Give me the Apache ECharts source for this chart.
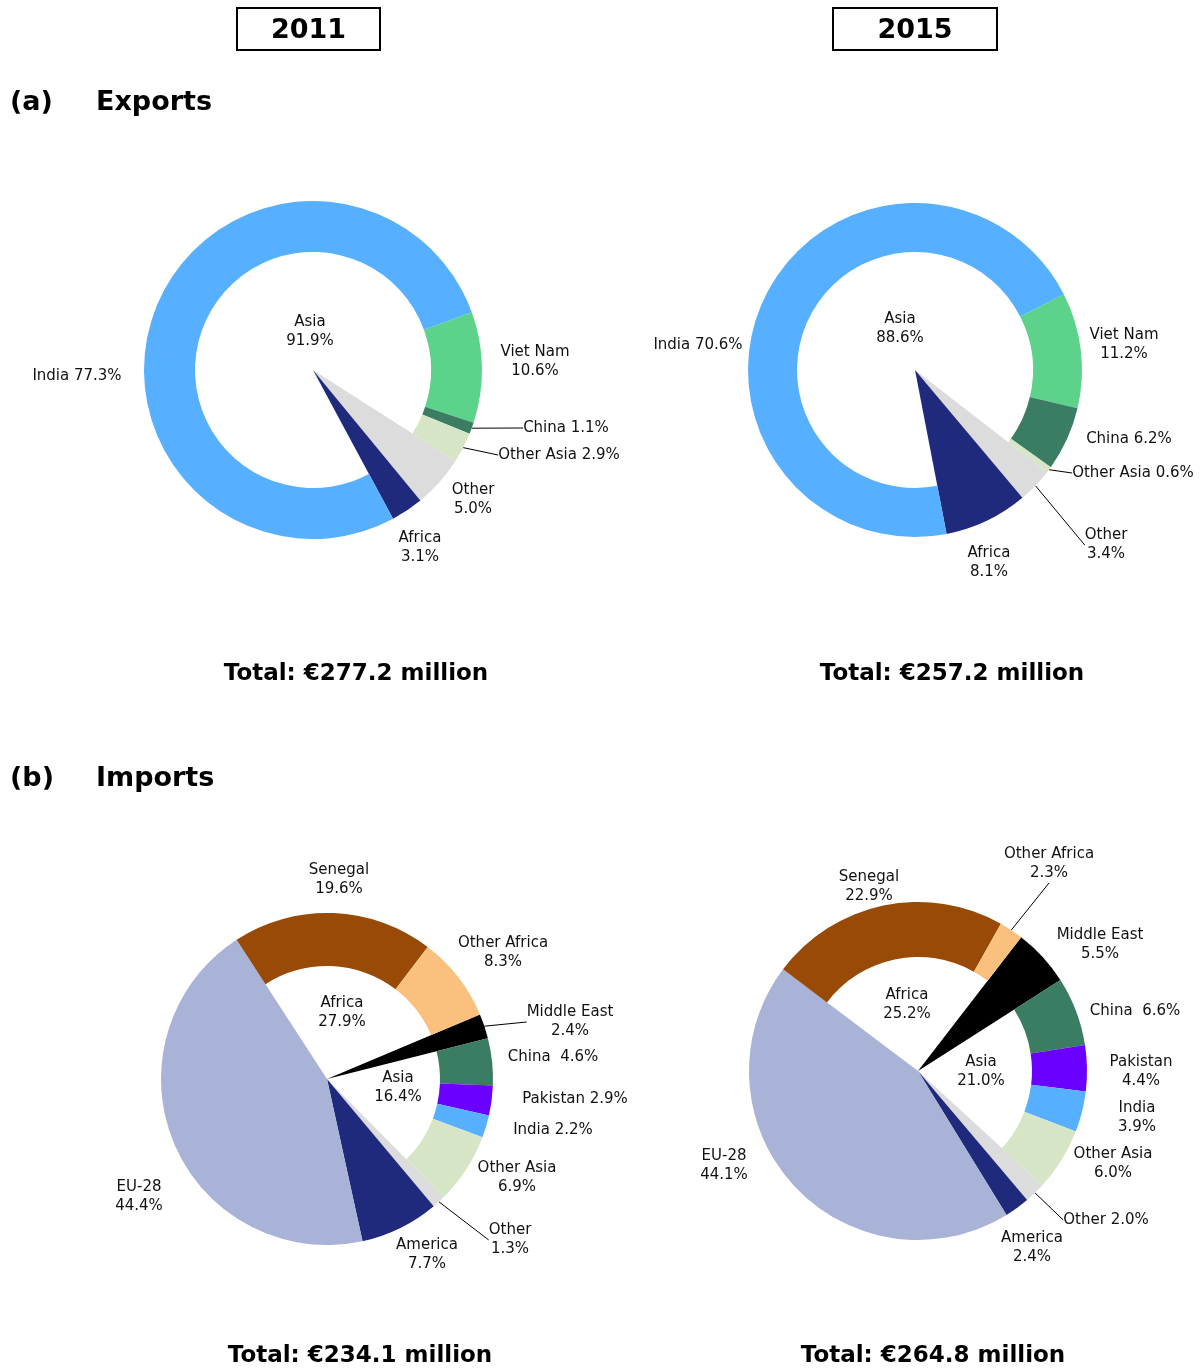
<!DOCTYPE html>
<html>
<head>
<meta charset="utf-8">
<script src="https://cdn.jsdelivr.net/npm/echarts@6/dist/echarts.min.js"></script>
<style>
html, body { margin: 0; padding: 0; background: #fff; }
#main { width: 1204px; height: 1370px; }
</style>
</head>
<body>
<div id="main"></div>
<script>
// (a) exports : Asian partners form the ring, the rest are wedges from the centre
const expNames = ['Viet Nam', 'China', 'Other Asia', 'Other', 'Africa', 'India'];
const exp2011 = [10.6, 1.1, 2.9, 5.0, 3.1, 77.3];
const exp2015 = [11.2, 6.2, 0.6, 3.4, 8.1, 70.6];
const expInRing = [1, 1, 1, 0, 0, 1];
const expAsia = [91.9, 88.6];
const expTotal = ['€277.2', '€257.2'];

// (b) imports : African and Asian partners form the ring
const impNames = ['Senegal', 'Other Africa', 'Middle East', 'China', 'Pakistan', 'India', 'Other Asia', 'Other', 'America', 'EU-28'];
const imp2011 = [19.6, 8.3, 2.4, 4.6, 2.9, 2.2, 6.9, 1.3, 7.7, 44.4];
const imp2015 = [22.9, 2.3, 5.5, 6.6, 4.4, 3.9, 6.0, 2.0, 2.4, 44.1];
const impInRing = [1, 1, 0, 1, 1, 1, 1, 0, 0, 0];
const impAfrica = [27.9, 25.2];
const impAsia = [16.4, 21.0];
const impTotal = ['€234.1', '€264.8'];

const years = ['2011', '2015'];

const FONT = 'DejaVu Sans';
const colors = {
  'India': '#56b0ff', 'Viet Nam': '#5dd28a', 'China': '#3a7d63', 'Other Asia': '#d5e5c5',
  'Other': '#dcdcdc', 'Africa': '#1f2a7c', 'America': '#1f2a7c', 'Senegal': '#994a07',
  'Other Africa': '#fac07d', 'Middle East': '#000000', 'Pakistan': '#6a00ff', 'EU-28': '#a9b2d7'
};

// label placement: offset from pie centre, separator between name and value, leader line
const pies = [
  {
    names: expNames, values: exp2011, ring: expInRing, center: [313, 370], r: [118, 169], start: 20,
    labels: [[222, -8, '\n'], [253, 58, ' ', 1], [246, 85, ' ', 1], [160, 130, '\n'], [107, 178, '\n'], [-236, 6, ' ']],
    groups: [[-3, -38, 'Asia', expAsia[0]]],
    total: expTotal[0], totalPos: [356, 674]
  },
  {
    names: expNames, values: exp2015, ring: expInRing, center: [915, 370], r: [118, 167], start: 27,
    labels: [[209, -25, '\n'], [214, 69, ' '], [218, 103, ' ', 1], [191, 175, '\n', 1], [74, 193, '\n'], [-217, -25, ' ']],
    groups: [[-15, -41, 'Asia', expAsia[1]]],
    total: expTotal[1], totalPos: [952, 674]
  },
  {
    names: impNames, values: imp2011, ring: impInRing, center: [327, 1079], r: [113, 166], start: 123,
    labels: [[12, -199, '\n'], [176, -126, '\n'], [243, -57, '\n', 1], [226, -22, '  '], [248, 20, ' '],
             [226, 51, ' '], [190, 99, '\n'], [183, 161, '\n', 1], [100, 176, '\n'], [-188, 118, '\n']],
    groups: [[15, -66, 'Africa', impAfrica[0]], [71, 9, 'Asia', impAsia[0]]],
    total: impTotal[0], totalPos: [360, 1356]
  },
  {
    names: impNames, values: imp2015, ring: impInRing, center: [918, 1071], r: [114, 169], start: 143,
    labels: [[-49, -184, '\n'], [131, -207, '\n', 1], [182, -126, '\n'], [217, -60, '  '], [223, 1, '\n'],
             [219, 47, '\n'], [195, 93, '\n'], [188, 149, ' ', 1], [114, 177, '\n'], [-194, 95, '\n']],
    groups: [[-11, -66, 'Africa', impAfrica[1]], [63, 1, 'Asia', impAsia[1]]],
    total: impTotal[1], totalPos: [933, 1356]
  }
];

function pieSeries(p, inRing) {
  return {
    type: 'pie',
    center: p.center,
    radius: inRing ? p.r : [0, p.r[1]],
    startAngle: p.start,
    clockwise: true,
    avoidLabelOverlap: false,
    silent: true,
    animation: false,
    data: p.names.map((name, i) => {
      const show = !!p.ring[i] === inRing;
      return {
        name: name,
        value: p.values[i],
        itemStyle: { color: show ? colors[name] : 'rgba(0,0,0,0)' },
        label: { show: show },
        labelLine: { show: show && !!p.labels[i][3] }
      };
    }),
    label: {
      position: 'outside',
      color: '#111',
      fontFamily: FONT,
      fontSize: 15,
      lineHeight: 19,
      formatter: params => params.name + p.labels[params.dataIndex][2] + params.value.toFixed(1) + '%'
    },
    labelLine: { lineStyle: { color: '#000', width: 1 }, length: 10, length2: 0 },
    labelLayout: params => {
      const lab = p.labels[params.dataIndex];
      return { x: p.center[0] + lab[0], y: p.center[1] + lab[1], align: 'center', verticalAlign: 'middle' };
    }
  };
}

const series = [];
const graphic = [];

pies.forEach(p => {
  series.push(pieSeries(p, false));
  series.push(pieSeries(p, true));
  p.groups.forEach(g => {
    graphic.push({
      type: 'text', x: p.center[0] + g[0], y: p.center[1] + g[1], silent: true,
      style: { text: g[2] + '\n' + g[3].toFixed(1) + '%', align: 'center', verticalAlign: 'middle',
               fontFamily: FONT, fontSize: 15, lineHeight: 19, fill: '#111' }
    });
  });
  graphic.push({
    type: 'text', x: p.totalPos[0], y: p.totalPos[1], silent: true,
    style: { text: 'Total: ' + p.total + ' million', align: 'center', verticalAlign: 'middle',
             fontFamily: FONT, fontSize: 23, fontWeight: 'bold', fill: '#000' }
  });
});

// year boxes
[[237, 143, years[0]], [833, 164, years[1]]].forEach(b => {
  graphic.push({ type: 'rect', shape: { x: b[0], y: 8, width: b[1], height: 42 },
                 style: { fill: '#fff', stroke: '#000', lineWidth: 2 }, silent: true });
  graphic.push({ type: 'text', x: b[0] + b[1] / 2, y: 31, silent: true,
                 style: { text: b[2], align: 'center', verticalAlign: 'middle',
                          fontFamily: FONT, fontSize: 27, fontWeight: 'bold', fill: '#000' } });
});

// section headings
[[103, '(a)', 'Exports'], [779, '(b)', 'Imports']].forEach(h => {
  graphic.push({ type: 'text', x: 10, y: h[0], silent: true,
                 style: { text: h[1], align: 'left', verticalAlign: 'middle',
                          fontFamily: FONT, fontSize: 27, fontWeight: 'bold', fill: '#000' } });
  graphic.push({ type: 'text', x: 96, y: h[0], silent: true,
                 style: { text: h[2], align: 'left', verticalAlign: 'middle',
                          fontFamily: FONT, fontSize: 27, fontWeight: 'bold', fill: '#000' } });
});

const chart = echarts.init(document.getElementById('main'));
chart.setOption({
  backgroundColor: '#fff',
  animation: false,
  series: series,
  graphic: graphic
});
</script>
</body>
</html>
